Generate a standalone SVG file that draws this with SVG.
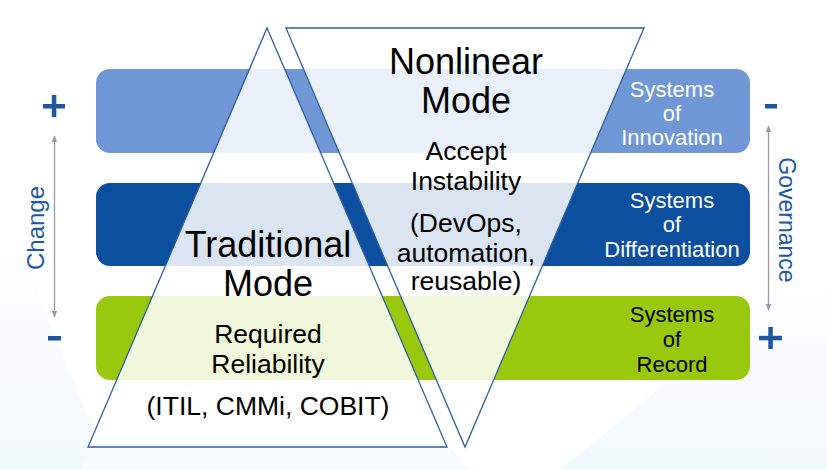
<svg xmlns="http://www.w3.org/2000/svg" width="827" height="470" viewBox="0 0 827 470">
  <defs>
    <style>
      text { font-family: "Liberation Sans", Arial, sans-serif; }
      .big { font-size: 36px; fill: #000; text-anchor: middle; }
      .mid { font-size: 26.5px; fill: #000; text-anchor: middle; }
      .lbl { font-size: 22px; text-anchor: middle; }
      .white { fill: #ffffff; }
      .black { fill: #000000; }
      .axis { font-size: 23px; fill: #1b58a0; text-anchor: middle; }
      .tri { fill: #ffffff; fill-opacity: 0.85; stroke: #2d5f9e; stroke-width: 1.3; stroke-linejoin: miter; }
      .sign { fill: #1b58a0; }
      .arrow { stroke: #9a9a9a; stroke-width: 1.3; fill: none; marker-start: url(#ah); marker-end: url(#ah); }
    </style>
    <marker id="ah" viewBox="0 0 10 10" refX="9" refY="5" markerWidth="7" markerHeight="7" orient="auto-start-reverse" markerUnits="userSpaceOnUse">
      <path d="M0,1 L10,5 L0,9 z" fill="#9a9a9a"/>
    </marker>
    <linearGradient id="bgL" x1="0" y1="0" x2="0" y2="1">
      <stop offset="0" stop-color="#f3f9fd" stop-opacity="0"/>
      <stop offset="1" stop-color="#f1f8fc" stop-opacity="1"/>
    </linearGradient>
  </defs>

  <rect x="0" y="0" width="827" height="470" fill="#ffffff"/>
  <g id="background">
    <polygon points="0,200 110,470 0,470" fill="url(#bgL)"/>
    <polygon points="827,250 827,470 560,470" fill="url(#bgL)"/>
    <polygon points="90,447 450,447 470,470 80,470" fill="#f6fbfe"/>
  </g>

  <g id="bar-innovation">
    <rect x="96" y="69" width="654" height="84" rx="14" fill="#7098d6"/>
  </g>
  <g id="bar-differentiation">
    <rect x="96" y="183" width="654" height="83" rx="14" fill="#0b4f9e"/>
  </g>
  <g id="bar-record">
    <rect x="96" y="296" width="654" height="84" rx="14" fill="#99c90f"/>
  </g>

  <g id="traditional-mode">
    <polygon class="tri" points="267,28 447,447 88,447"/>
    <text class="big" x="268" y="257">Traditional</text>
    <text class="big" x="268" y="296">Mode</text>
    <text class="mid" x="268" y="343">Required</text>
    <text class="mid" x="268" y="373">Reliability</text>
    <text class="mid" x="268" y="415">(ITIL, CMMi, COBIT)</text>
  </g>

  <g id="nonlinear-mode">
    <polygon class="tri" points="286,28 644,28 465,447"/>
    <text class="big" x="466" y="74">Nonlinear</text>
    <text class="big" x="466" y="113">Mode</text>
    <text class="mid" x="466" y="160">Accept</text>
    <text class="mid" x="466" y="190">Instability</text>
    <text class="mid" x="466" y="232">(DevOps,</text>
    <text class="mid" x="466" y="262">automation,</text>
    <text class="mid" x="466" y="290">reusable)</text>
  </g>

  <g id="label-innovation">
    <text class="lbl white" x="672" y="97">Systems</text>
    <text class="lbl white" x="672" y="121">of</text>
    <text class="lbl white" x="672" y="145">Innovation</text>
  </g>
  <g id="label-differentiation">
    <text class="lbl white" x="672" y="208">Systems</text>
    <text class="lbl white" x="672" y="232">of</text>
    <text class="lbl white" x="672" y="257">Differentiation</text>
  </g>
  <g id="label-record">
    <text class="lbl black" x="672" y="322">Systems</text>
    <text class="lbl black" x="672" y="347">of</text>
    <text class="lbl black" x="672" y="372">Record</text>
  </g>

  <g id="change-axis">
    <rect class="sign" x="43" y="104" width="22" height="4.5"/>
    <rect class="sign" x="51.8" y="95" width="4.5" height="22"/>
    <rect class="sign" x="48" y="336" width="13" height="4.5"/>
    <text class="axis" transform="translate(44,228) rotate(-90)" style="font-size:24px">Change</text>
  </g>

  <g id="governance-axis">
    <rect class="sign" x="765" y="104" width="12" height="4.5"/>
    <rect class="sign" x="759" y="335.8" width="23" height="4.5"/>
    <rect class="sign" x="768.3" y="327" width="4.5" height="22"/>
    <text class="axis" transform="translate(779,220) rotate(90)">Governance</text>
  </g>

  <g id="connectors">
    <line class="arrow" x1="54.5" y1="136" x2="54.5" y2="317"/>
    <line class="arrow" x1="768.5" y1="126" x2="768.5" y2="310"/>
  </g>
</svg>
